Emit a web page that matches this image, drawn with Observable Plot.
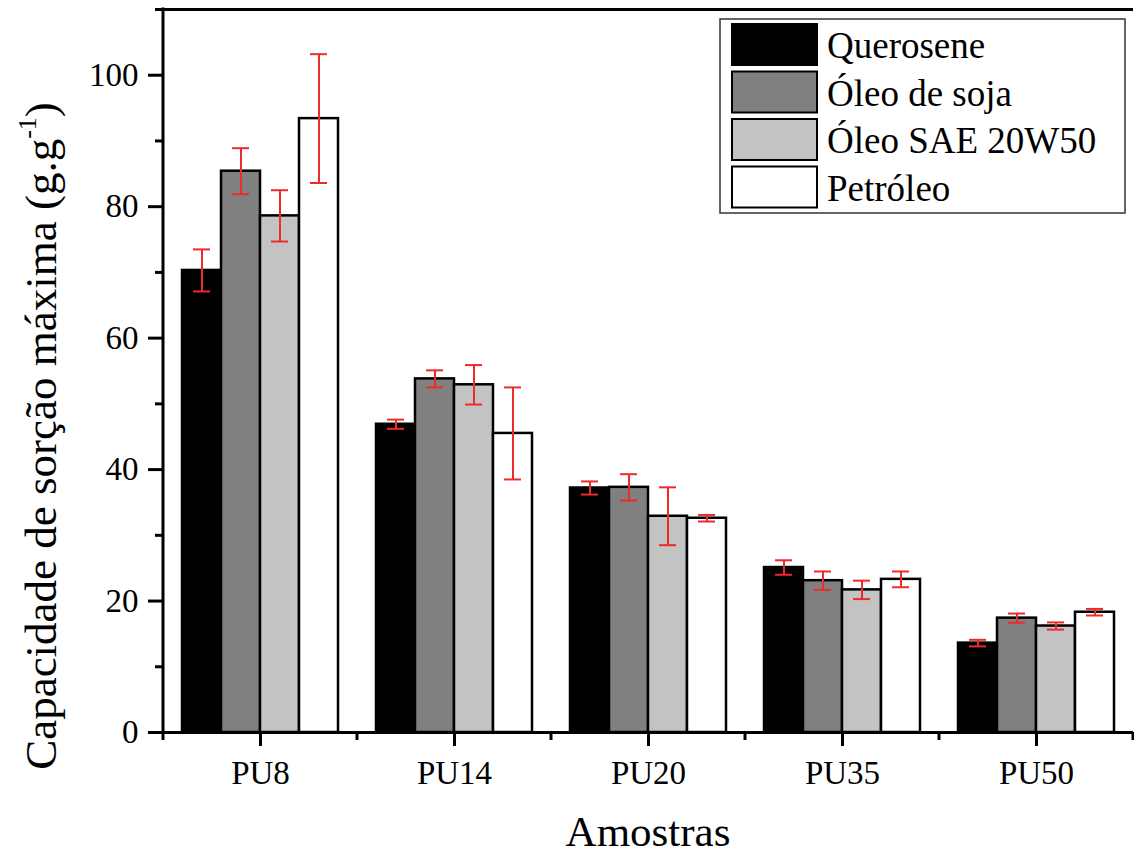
<!DOCTYPE html>
<html>
<head>
<meta charset="utf-8">
<script src="https://cdn.jsdelivr.net/npm/d3@7"></script>
<script src="https://cdn.jsdelivr.net/npm/@observablehq/plot@0.6"></script>
<style>
  html, body { margin: 0; padding: 0; background: #fff; }
  #chart svg { display: block; }
</style>
</head>
<body>
<div id="chart"></div>
<script>
// ---- Data ----
const samples = ["PU8", "PU14", "PU20", "PU35", "PU50"];
const seriesNames = ["Querosene", "Óleo de soja", "Óleo SAE 20W50", "Petróleo"];
const seriesColors = ["#000000", "#808080", "#c3c3c3", "#ffffff"];

const querosene = [70.3, 46.9, 37.2, 25.1, 13.6];
const oleoSoja = [85.4, 53.8, 37.3, 23.1, 17.4];
const oleoSAE = [78.6, 52.9, 32.9, 21.7, 16.2];
const petroleo = [93.4, 45.5, 32.6, 23.3, 18.3];

const queroseneErr = [3.2, 0.7, 1.0, 1.1, 0.5];
const oleoSojaErr = [3.5, 1.3, 2.0, 1.4, 0.7];
const oleoSAEErr = [3.9, 3.0, 4.4, 1.4, 0.55];
const petroleoErr = [9.8, 7.0, 0.5, 1.2, 0.5];

const yMajorTicks = [0, 20, 40, 60, 80, 100];
const yMinorTicks = [10, 30, 50, 70, 90, 110];

const xTitle = "Amostras";
const yTitle = "Capacidade de sorção máxima (g.g";

// ---- Build table ----
const valuesBySeries = [querosene, oleoSoja, oleoSAE, petroleo];
const errBySeries = [queroseneErr, oleoSojaErr, oleoSAEErr, petroleoErr];
const data = [];
seriesNames.forEach((s, j) => {
  samples.forEach((p, i) => {
    const v = valuesBySeries[j][i], e = errBySeries[j][i];
    data.push({sample: p, series: s, value: v, lo: v - e, hi: v + e});
  });
});

const font = "'Liberation Serif', 'Times New Roman', serif";
const errColor = "#ee2a2a";

const chart = Plot.plot({
  width: 1134,
  height: 856,
  marginLeft: 162,
  marginRight: 0,
  marginTop: 9,
  marginBottom: 124,
  style: {fontFamily: font, color: "#000", background: "#fff", overflow: "visible"},
  fx: {domain: samples, padding: 0, label: null, axis: null},
  x: {domain: seriesNames, paddingInner: 0, paddingOuter: 0.475, axis: null},
  y: {domain: [0, 110], axis: null},
  color: {domain: seriesNames, range: seriesColors},
  marks: [
    Plot.barY(data, {fx: "sample", x: "series", y: "value", fill: "series", stroke: "#000", strokeWidth: 2.5}),
    Plot.ruleX(data, {fx: "sample", x: "series", y1: "lo", y2: "hi", stroke: errColor, strokeWidth: 2}),
    Plot.tickY(data, {fx: "sample", x: "series", y: "lo", stroke: errColor, strokeWidth: 2, insetLeft: 11, insetRight: 11}),
    Plot.tickY(data, {fx: "sample", x: "series", y: "hi", stroke: errColor, strokeWidth: 2, insetLeft: 11, insetRight: 11}),
    Plot.ruleY([0], {stroke: "#000", strokeWidth: 3}),
    Plot.ruleY([110], {stroke: "#000", strokeWidth: 3}),
    Plot.axisY({ticks: yMajorTicks, tickSize: 15, tickPadding: 10, strokeWidth: 3, fontSize: 33, label: null, tickFormat: d => String(d)}),
    Plot.axisY({ticks: yMinorTicks, tickSize: 8, strokeWidth: 3, label: null, tickFormat: () => ""}),
    Plot.axisFx({anchor: "bottom", tickSize: 14, tickPadding: 14, strokeWidth: 3, fontSize: 33, label: null})
  ]
});

document.getElementById("chart").appendChild(chart);

// ---- Post-processing: frame line, minor x ticks, titles, legend ----
const svg = d3.select(chart);
const fx = chart.scale("fx");
const color = chart.scale("color");
const yS = chart.scale("y");
const y0 = yS.apply(0), yTop = yS.apply(110);
const xLeft = fx.apply(samples[0]);

// left axis line
svg.append("line")
  .attr("x1", xLeft).attr("x2", xLeft)
  .attr("y1", yTop - 1.5).attr("y2", y0 + 1.5)
  .attr("stroke", "#000").attr("stroke-width", 3);
// minor x ticks at band boundaries
const bounds = samples.map(s => fx.apply(s)).concat([fx.apply(samples[samples.length - 1]) + fx.bandwidth]);
svg.append("g").selectAll("line").data(bounds).join("line")
  .attr("x1", d => d).attr("x2", d => d)
  .attr("y1", y0).attr("y2", y0 + 8)
  .attr("stroke", "#000").attr("stroke-width", 3);

// x title
svg.append("text")
  .attr("x", (fx.range[0] + fx.range[1]) / 2)
  .attr("y", 846)
  .attr("text-anchor", "middle")
  .attr("font-family", font)
  .attr("font-size", 43)
  .attr("fill", "#000")
  .text(xTitle);

// y title with superscript
const yt = svg.append("text")
  .attr("transform", `translate(56, 436) rotate(-90)`)
  .attr("text-anchor", "middle")
  .attr("font-family", font)
  .attr("font-size", 45)
  .attr("fill", "#000");
yt.append("tspan").text(yTitle);
yt.append("tspan").attr("font-size", 26).attr("dy", -20).text("-1");
yt.append("tspan").attr("dy", 20).text(")");

// legend
const lg = svg.append("g").attr("font-family", font).attr("text-anchor", "start");
lg.append("rect")
  .attr("x", 720).attr("y", 19).attr("width", 405).attr("height", 194)
  .attr("fill", "#fff").attr("stroke", "#333").attr("stroke-width", 1.5);
seriesNames.forEach((s, i) => {
  const top = 23 + i * 47.5;
  lg.append("rect")
    .attr("x", 732).attr("y", top + 1).attr("width", 85).attr("height", 41)
    .attr("fill", color.apply(s)).attr("stroke", "#000").attr("stroke-width", 2);
  lg.append("text")
    .attr("x", 827).attr("y", top + 35)
    .attr("text-anchor", "start")
    .attr("font-size", 37).attr("fill", "#000")
    .text(s);
});
</script>
</body>
</html>
